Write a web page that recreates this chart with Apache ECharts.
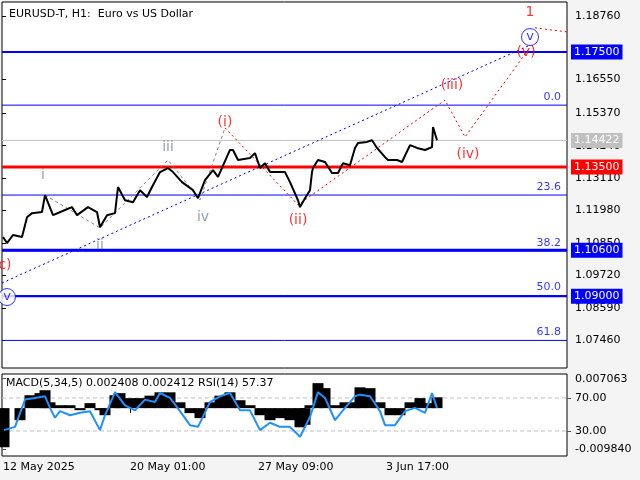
<!DOCTYPE html>
<html><head><meta charset="utf-8">
<script src="https://cdn.jsdelivr.net/npm/echarts@6/dist/echarts.min.js"></script>
<style>html,body{margin:0;padding:0;background:#f4f4f4}#c{width:640px;height:480px}</style>
</head><body><div id="c"></div>
<script>
const priceHours=[1,5,11,20,25,30,40,43,51,63,70,75,86,95,98,105,113,116,123,131,138,145,150,158,166,171,180,191,196,203,211,216,228,231,236,248,253,258,263,268,283,288,296,298,303,308,310,311,316,323,330,336,341,348,353,356,365,370,375,383,386,395,400,408,415,423,430,431,435];
const priceVals=[1.1106,1.1085,1.1113,1.1106,1.1175,1.1189,1.1193,1.1252,1.1182,1.1200,1.1210,1.1182,1.1210,1.1193,1.1140,1.1182,1.1189,1.1280,1.1234,1.1227,1.1269,1.1245,1.1280,1.1332,1.1346,1.1332,1.1297,1.1269,1.1241,1.1304,1.1339,1.1315,1.1409,1.1409,1.1374,1.1381,1.1398,1.1346,1.1363,1.1332,1.1332,1.1297,1.1234,1.1210,1.1241,1.1269,1.1332,1.1346,1.1374,1.1367,1.1329,1.1329,1.1363,1.1356,1.1416,1.1433,1.1437,1.1443,1.1416,1.1384,1.1374,1.1374,1.1367,1.1426,1.1416,1.1409,1.1419,1.1489,1.1443];
const yTicks=[1.1876,1.1655,1.1537,1.1424,1.1311,1.1198,1.1085,1.0972,1.0859,1.0746];
const levelVals=[1.175,1.135,1.106,1.09];
const levelColors=['#0000ff','#ff0000','#0000ff','#0000ff'];
const levelWidths=[2,3,3,2];
const fibVals=[1.1565,1.1252,1.1058,1.0902,1.0746];
const fibNames=['0.0','23.6','38.2','50.0','61.8'];
const currentPrice=1.14422;
const greyWave=[[43,1.1252],[98,1.1138],[166,1.1374],[198,1.1235],[223,1.1486]];
const redWave=[[223,1.1486],[296,1.1218],[443,1.1583],[463,1.1454],[526,1.1757]];
const redTail=[[533,1.1834],[565,1.1820]];
const blueTrend=[[0,1.0946],[528,1.1774]];
const waveLabels=[
 ['i',41,1.1322,'#7a8a99'],['ii',98,1.1078,'#7a8a99'],['iii',166,1.1419,'#7a8a99'],['iv',201,1.1176,'#7a8a99'],
 ['(i)',223,1.1506,'#ff0000'],['(ii)',296,1.1165,'#ff0000'],['(iii)',450,1.1635,'#ff0000'],['(iv)',466,1.1392,'#ff0000'],
 ['(v)',524,1.1750,'#ff0000'],['1',528,1.1889,'#ff0000'],['c)',3,1.1009,'#ff0000']];
const circled=[[528,1.1802],[5,1.0897]];
const macdHours=[2,18,28,38,43,48,58,68,78,88,98,103,113,118,128,138,148,158,168,178,188,198,208,218,228,238,248,258,268,278,288,298,303,308,316,323,333,343,353,358,368,378,388,398,408,418,428,435];
const macdVals=[-0.0094,-0.0029,0.0031,0.0036,0.0043,0.0014,0.0007,0.0007,-0.0005,0.0012,-0.0005,-0.0017,0.0031,0.0036,0.0024,0.0024,0.0030,0.0038,0.0038,0.0014,-0.0012,-0.0024,0.0014,0.0030,0.0038,0.0019,0.0007,-0.0017,-0.0029,-0.0024,-0.0029,-0.0046,-0.0040,0.0007,0.0060,0.0048,0.0007,0.0014,0.0014,0.0050,0.0048,0.0014,-0.0017,-0.0017,0.0014,0.0024,0.0012,0.0026];
const rsiHours=[2,13,23,33,43,48,53,58,68,78,88,98,103,113,123,133,143,153,158,168,178,188,196,208,218,228,238,248,258,268,278,288,298,308,316,323,333,343,353,358,368,378,383,393,403,413,423,430,435];
const rsiVals=[31,35,68,70,72,58,46,54,49,52,54,31,49,77,61,55,68,65,76,70,54,37,35,65,72,76,55,55,31,40,35,35,23,47,77,70,43,58,72,74,72,54,37,37,54,58,52,76,58];
const rsiLevels=[70,30];
const dateTicks=[1,128,256,384];
const dateNames=['12 May 2025','20 May 01:00','27 May 09:00','3 Jun 17:00'];

const F='DejaVu Sans';
const XMAX=565;
const chart=echarts.init(document.getElementById('c'));
const pair=(a,b)=>a.map((x,i)=>[x,b[i]]);
const hline=(v,color,width,type,z,endLbl,xi,yi)=>({type:'line',xAxisIndex:xi||0,yAxisIndex:yi||0,data:[[0,v],[XMAX,v]],symbol:'none',silent:true,z:z,
  lineStyle:{color:color,width:width,type:type},
  endLabel:endLbl?{show:true,formatter:v.toFixed(5),color:'#fff',backgroundColor:color,padding:[2,3],fontSize:11,fontFamily:F,distance:4}:{show:false}});
const series=[];
fibVals.forEach(v=>series.push(hline(v,'#0000ff',1,'solid',1,false)));
series.push(hline(currentPrice,'#c0c0c0',1,'solid',1,true));
levelVals.forEach((v,i)=>series.push(hline(v,levelColors[i],levelWidths[i],'solid',2,true)));
rsiLevels.forEach(v=>{const s=hline(v,'#c0c0c0',1,[4,3],1,false,1,2);series.push(s);});
series.push(
  {type:'scatter',xAxisIndex:0,yAxisIndex:0,symbolSize:0,z:3,
   data:fibVals.map((v,i)=>({value:[XMAX,v],label:{show:true,position:'left',offset:[-1,-8],formatter:fibNames[i],color:'#0000ff',fontSize:11}}))},
  {type:'line',xAxisIndex:0,yAxisIndex:0,data:blueTrend,symbol:'none',lineStyle:{color:'#0000ff',type:[2,3],width:1},z:2},
  {type:'line',xAxisIndex:0,yAxisIndex:0,data:greyWave,symbol:'none',lineStyle:{color:'#808080',type:[3,3],width:1},z:3},
  {type:'line',xAxisIndex:0,yAxisIndex:0,data:redWave,symbol:'none',lineStyle:{color:'#ff0000',type:[2,3],width:1},z:3},
  {type:'line',xAxisIndex:0,yAxisIndex:0,data:redTail,symbol:'none',lineStyle:{color:'#ff0000',type:[2,3],width:1},z:3},
  {type:'line',xAxisIndex:0,yAxisIndex:0,data:pair(priceHours,priceVals),symbol:'none',lineStyle:{color:'#000',width:2},z:4},
  {type:'scatter',xAxisIndex:0,yAxisIndex:0,symbolSize:0,z:5,
   data:waveLabels.map(w=>({value:[w[1],w[2]],label:{show:true,position:'inside',formatter:w[0],color:w[3],fontSize:14}}))},
  {type:'scatter',xAxisIndex:0,yAxisIndex:0,symbol:'circle',symbolSize:17,z:5,
   itemStyle:{color:'#fff',borderColor:'#0000ff',borderWidth:1},
   label:{show:true,position:'inside',formatter:'v',color:'#0000ff',fontSize:13},data:circled},
  {type:'bar',xAxisIndex:1,yAxisIndex:1,data:pair(macdHours,macdVals),barWidth:11,itemStyle:{color:'#000'},z:2},
  {type:'line',xAxisIndex:1,yAxisIndex:2,data:pair(rsiHours,rsiVals),symbol:'none',lineStyle:{color:'#1e90ff',width:2},z:5}
);
chart.setOption({
 animation:false,
 textStyle:{fontFamily:F},
 title:{text:'EURUSD-T, H1:  Euro vs US Dollar',left:4,top:4,textStyle:{fontSize:11,fontWeight:'normal',color:'#000',fontFamily:F}},
 grid:[{left:2,right:73,top:2,height:366,show:true,backgroundColor:'#fff',borderColor:'#000',borderWidth:1},
       {left:2,right:73,top:374,height:82,show:true,backgroundColor:'#fff',borderColor:'#000',borderWidth:1}],
 xAxis:[{gridIndex:0,type:'value',min:0,max:XMAX,show:false},
        {gridIndex:1,type:'value',min:0,max:XMAX,axisLine:{show:false},splitLine:{show:false},
         axisTick:{show:true,customValues:dateTicks,length:5,lineStyle:{color:'#000'}},
         axisLabel:{customValues:dateTicks,formatter:v=>dateNames[dateTicks.indexOf(v)],align:'left',fontSize:11,color:'#000',margin:6}}],
 yAxis:[{gridIndex:0,type:'value',position:'right',min:1.0650,max:1.1924,scale:true,splitLine:{show:false},axisLine:{show:false},
         axisTick:{show:true,customValues:yTicks,length:4,lineStyle:{color:'#000'}},
         axisLabel:{customValues:yTicks,formatter:v=>v.toFixed(5),fontSize:11,color:'#000',margin:8}},
        {gridIndex:1,type:'value',position:'right',min:-0.0115,max:0.0082,scale:true,splitLine:{show:false},axisLine:{show:false},
         axisTick:{show:true,customValues:[0.007063,-0.00984],length:4},
         axisLabel:{customValues:[0.007063,-0.00984],formatter:v=>v.toFixed(6),fontSize:11,color:'#000',margin:8}},
        {gridIndex:1,type:'value',position:'right',min:-0.3,max:99,scale:true,splitLine:{show:false},axisLine:{show:false},
         axisTick:{show:true,customValues:[70,30],length:4},
         axisLabel:{customValues:[70,30],formatter:v=>v.toFixed(2),fontSize:11,color:'#000',margin:8}}],
 series:series,
 graphic:[{type:'text',left:6,top:378,style:{text:'MACD(5,34,5) 0.002408 0.002412 RSI(14) 57.37',font:'11px DejaVu Sans',fill:'#000'}}]
});
</script></body></html>
